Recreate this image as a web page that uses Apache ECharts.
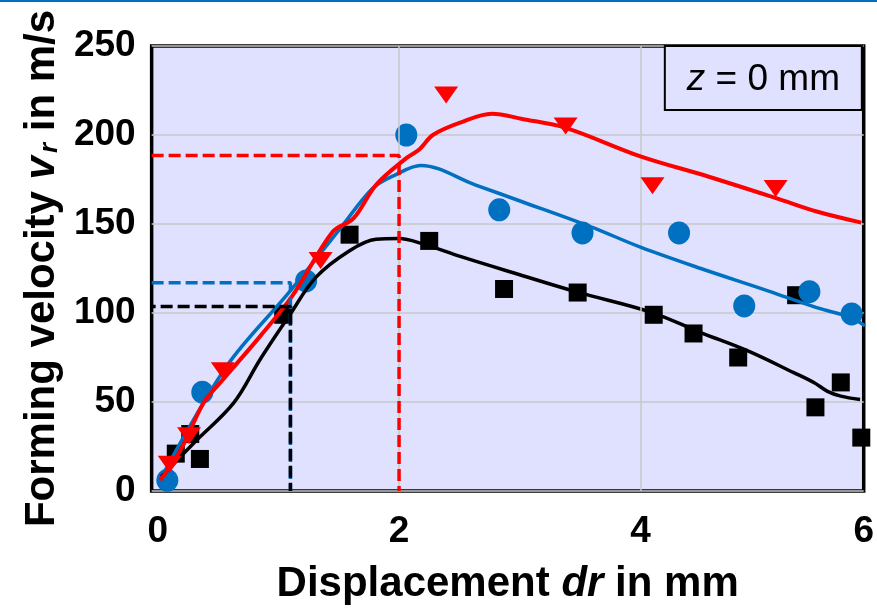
<!DOCTYPE html>
<html><head><meta charset="utf-8">
<script src="https://cdn.jsdelivr.net/npm/echarts@6/dist/echarts.min.js"></script>
<style>html,body{margin:0;padding:0;background:#fff}#c{width:877px;height:610px}</style>
</head><body><div id="c"></div>
<script>
// ---- data ----
const xRange = [-0.05, 5.85];
const yRange = [0, 250];
const yInterval = 50;
const xTickValues = [0, 2, 4, 5.85];
const xTickLabels = ['0', '2', '4', '6'];
const xGridValues = [2, 4];

const blackPoints = [[0.15,21],[0.27,32],[0.35,18],[1.04,99],[1.59,144],[2.25,140.5],[2.87,113.5],[3.48,111.5],[4.11,99],[4.44,88.5],[4.81,75],[5.29,110],[5.45,47],[5.66,61],[5.83,30]];
const bluePoints = [[0.08,6],[0.37,55.5],[1.23,118],[2.06,200],[2.83,158],[3.52,145],[4.32,145],[4.86,104],[5.40,112],[5.75,99.5]];
const redPoints = [[0.10,15],[0.26,31],[0.54,67.5],[1.35,129.5],[2.39,222.5],[3.38,205],[4.10,171.5],[5.12,170]];

const blackCurve = [[0.03,8],[0.3,27],[0.63,49.5],[0.85,74],[1.09,98.5],[1.31,120],[1.59,135],[1.81,141.4],[2.0,141.8],[2.19,139],[2.52,131.5],[3.0,121.5],[3.48,111.7],[4.09,100.4],[4.5,89],[4.89,78.7],[5.27,66.5],[5.44,60.8],[5.55,56],[5.66,53.3],[5.82,51.4]];
const blueCurve = [[0.05,10],[0.57,70],[1.09,111.7],[1.53,149],[1.78,170],[1.97,177.6],[2.18,182.9],[2.63,172],[3.02,162.5],[3.59,148.4],[4.0,137],[4.5,125],[5.05,112.6],[5.46,103],[5.74,97.6],[5.86,92.8]];
const redCurve = [[0.02,6],[0.19,23],[0.38,49.5],[0.52,61],[0.85,87],[1.12,110],[1.45,145.6],[1.62,153],[1.81,172],[2.06,187],[2.17,192],[2.28,200],[2.5,206.8],[2.77,212],[3.02,209],[3.38,204],[4.0,188],[4.56,176.7],[5.13,164.4],[5.46,157],[5.83,150.8]];

const redGuide = [[-0.05,188.5],[2,188.5],[2,0]];
const blueGuide = [[-0.05,117],[1.1,117],[1.1,0]];
const blackGuide = [[-0.05,103.6],[1.1,103.6],[1.1,0]];

const annotation = '{i|z} = 0 mm';
const xName = 'Displacement {i|dr} in mm';
const yName = 'Forming velocity {i|v}{sub|r} in m/s';

// ---- chart ----
const FONT = 'Liberation Sans, Arial, sans-serif';
const BLUE = '#0070C0', RED = '#FF0000', BLACK = '#000000', BG = '#E0E0FF', GRID = '#C8C8C8';
const chart = echarts.init(document.getElementById('c'), null, {renderer: 'canvas'});

function curve(data, color, width, z) {
  return {type: 'line', data, smooth: 0.35, showSymbol: false, symbol: 'none', silent: true,
    lineStyle: {color, width}, z};
}
function guide(data, color, z, offset) {
  return {type: 'line', data, showSymbol: false, symbol: 'none', silent: true,
    lineStyle: {color, width: 3.5, type: [12, 5], dashOffset: offset || 0}, z};
}
function marks(data, symbol, size, color, rotate, z) {
  return {type: 'scatter', data, symbol, symbolSize: size, symbolRotate: rotate || 0, silent: true,
    itemStyle: {color, opacity: 1}, z};
}

chart.setOption({
  animation: false,
  backgroundColor: '#fff',
  graphic: [{type: 'rect', shape: {x: 0, y: 0, width: 877, height: 2}, style: {fill: BLUE}}],
  title: {
    text: annotation, right: 15, top: 46,
    borderColor: BLACK, borderWidth: 2, backgroundColor: BG,
    padding: [15, 22, 12, 22],
    textStyle: {fontFamily: FONT, fontSize: 37, fontWeight: 'normal', color: BLACK,
      rich: {i: {fontFamily: FONT, fontSize: 37, fontStyle: 'italic', color: BLACK}}}
  },
  grid: {left: 148, right: 13, top: 46, bottom: 119, show: true, backgroundColor: BG,
    borderColor: BLACK, borderWidth: 3.5, containLabel: false},
  xAxis: {
    type: 'value', min: xRange[0], max: xRange[1],
    axisLine: {show: false}, axisTick: {show: false, customValues: xTickValues},
    splitLine: {show: false},
    axisLabel: {customValues: xTickValues, margin: 22, fontFamily: FONT, fontSize: 37, fontWeight: 'bold', color: BLACK,
      formatter: v => { const i = xTickValues.findIndex(t => Math.abs(t - v) < 1e-6); return i >= 0 ? xTickLabels[i] : ''; }},
    name: xName, nameLocation: 'middle', nameGap: 72,
    nameTextStyle: {fontFamily: FONT, fontSize: 42, fontWeight: 'bold', color: BLACK,
      rich: {i: {fontFamily: FONT, fontSize: 42, fontWeight: 'bold', fontStyle: 'italic', color: BLACK}}}
  },
  yAxis: {
    type: 'value', min: yRange[0], max: yRange[1], interval: yInterval,
    axisLine: {show: false}, axisTick: {show: false},
    splitLine: {show: true, lineStyle: {color: GRID, width: 1.5}},
    axisLabel: {margin: 16, fontFamily: FONT, fontSize: 37, fontWeight: 'bold', color: BLACK},
    name: yName, nameLocation: 'middle', nameGap: 82, nameRotate: 90,
    nameTextStyle: {fontFamily: FONT, fontSize: 42, fontWeight: 'bold', color: BLACK, lineHeight: 42, verticalAlign: 'top',
      rich: {
        i: {fontFamily: FONT, fontSize: 42, fontWeight: 'bold', fontStyle: 'italic', color: BLACK, lineHeight: 42, verticalAlign: 'top', padding: [0, 3, 0, 0]},
        sub: {fontFamily: FONT, fontSize: 26, fontWeight: 'bold', fontStyle: 'italic', color: BLACK, lineHeight: 26, padding: [29, 0, 0, 0], verticalAlign: 'bottom'}
      }}
  },
  series: [
    {type: 'line', data: [], silent: true, z: 1,
      markLine: {silent: true, symbol: 'none', label: {show: false},
        lineStyle: {color: GRID, width: 1.5, type: 'solid'},
        data: xGridValues.map(v => ({xAxis: v}))}},
    marks(blackPoints, 'rect', 18, BLACK, 0, 3),
    marks(bluePoints, 'circle', [22, 23], BLUE, 0, 3),
    curve(blackCurve, BLACK, 3.5, 4),
    curve(blueCurve, BLUE, 3.5, 5),
    curve(redCurve, RED, 4, 6),
    guide(blueGuide, BLUE, 7, 0),
    guide(blackGuide, BLACK, 8, 8),
    guide(redGuide, RED, 8, 0),
    marks(redPoints, 'triangle', [24, 17], RED, 180, 9)
  ]
});
</script>
</body></html>
